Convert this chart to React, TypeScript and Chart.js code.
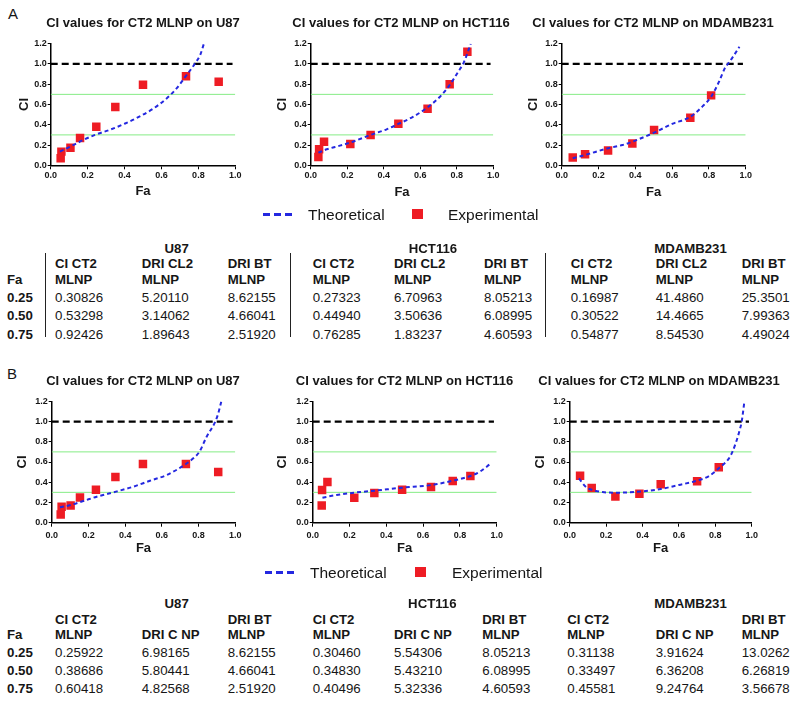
import React, { useEffect, useRef } from "react";
import { Chart, registerables } from "chart.js";

Chart.register(...registerables);

const FONT = "'Liberation Sans', Arial, Helvetica, sans-serif";
const BLUE = "#2428e0";
const RED = "#ee1c24";
const GREEN = "#86ec86";
const INK = "#161616";

// ---------- axis ticks ----------
const X_TICKS = [0, 0.2, 0.4, 0.6, 0.8, 1.0];
const Y_TICKS = [0, 0.2, 0.4, 0.6, 0.8, 1.0, 1.2];

// reference lines (CI levels)
const CI_ADDITIVE = 1.0;
const CI_UPPER = 0.7;
const CI_LOWER = 0.3;

// ---------- Panel A ----------
const A_U87_EXP_FA = [0.054, 0.058, 0.107, 0.159, 0.247, 0.35, 0.5, 0.733, 0.91];
const A_U87_EXP_CI = [0.069, 0.135, 0.174, 0.27, 0.381, 0.575, 0.796, 0.878, 0.825];
const A_U87_TH_FA = [0.05, 0.105, 0.177, 0.24, 0.32, 0.4, 0.48, 0.556, 0.628, 0.682, 0.736, 0.78, 0.81, 0.83];
const A_U87_TH_CI = [0.135, 0.184, 0.25, 0.3, 0.35, 0.41, 0.48, 0.56, 0.66, 0.76, 0.89, 1.0, 1.09, 1.2];

const A_HCT_EXP_FA = [0.042, 0.046, 0.073, 0.217, 0.328, 0.48, 0.64, 0.761, 0.858];
const A_HCT_EXP_CI = [0.082, 0.158, 0.233, 0.21, 0.299, 0.411, 0.559, 0.799, 1.121];
const A_HCT_TH_FA = [0.042, 0.088, 0.16, 0.217, 0.328, 0.416, 0.48, 0.562, 0.64, 0.708, 0.761, 0.808, 0.836, 0.858, 0.876];
const A_HCT_TH_CI = [0.125, 0.158, 0.194, 0.224, 0.3, 0.355, 0.408, 0.48, 0.572, 0.677, 0.792, 0.924, 1.006, 1.105, 1.2];

const A_MDA_EXP_FA = [0.06, 0.127, 0.252, 0.384, 0.502, 0.699, 0.812];
const A_MDA_EXP_CI = [0.076, 0.108, 0.145, 0.214, 0.348, 0.47, 0.69];
const A_MDA_TH_FA = [0.06, 0.127, 0.252, 0.33, 0.384, 0.502, 0.6, 0.7, 0.764, 0.812, 0.855, 0.891, 0.906, 0.937, 0.966];
const A_MDA_TH_CI = [0.069, 0.102, 0.168, 0.2, 0.233, 0.322, 0.408, 0.48, 0.579, 0.677, 0.825, 0.973, 1.006, 1.088, 1.17];

// ---------- Panel B ----------
const B_U87_EXP_FA = [0.049, 0.054, 0.103, 0.154, 0.241, 0.347, 0.497, 0.731, 0.907];
const B_U87_EXP_CI = [0.082, 0.158, 0.171, 0.25, 0.326, 0.452, 0.58, 0.58, 0.501];
const B_U87_TH_FA = [0.045, 0.103, 0.172, 0.245, 0.35, 0.445, 0.535, 0.626, 0.731, 0.771, 0.804, 0.844, 0.891, 0.907, 0.924];
const B_U87_TH_CI = [0.152, 0.175, 0.214, 0.257, 0.307, 0.356, 0.415, 0.471, 0.58, 0.636, 0.7, 0.85, 1.0, 1.08, 1.2];

const B_HCT_EXP_FA = [0.049, 0.051, 0.08, 0.226, 0.335, 0.486, 0.643, 0.761, 0.857];
const B_HCT_EXP_CI = [0.171, 0.323, 0.402, 0.247, 0.293, 0.326, 0.353, 0.412, 0.462];
const B_HCT_TH_FA = [0.053, 0.13, 0.226, 0.335, 0.486, 0.643, 0.761, 0.857, 0.909, 0.964];
const B_HCT_TH_CI = [0.247, 0.274, 0.297, 0.316, 0.346, 0.372, 0.415, 0.462, 0.505, 0.58];

const B_MDA_EXP_FA = [0.057, 0.121, 0.251, 0.383, 0.5, 0.7, 0.819];
const B_MDA_EXP_CI = [0.465, 0.343, 0.26, 0.287, 0.379, 0.409, 0.547];
const B_MDA_TH_FA = [0.051, 0.088, 0.125, 0.18, 0.253, 0.326, 0.399, 0.5, 0.6, 0.7, 0.766, 0.819, 0.875, 0.894, 0.912, 0.934, 0.945, 0.96];
const B_MDA_TH_CI = [0.438, 0.356, 0.323, 0.303, 0.297, 0.3, 0.31, 0.333, 0.373, 0.415, 0.462, 0.537, 0.636, 0.7, 0.785, 0.916, 1.0, 1.2];

// ---------- tables ----------
const FA_LEVELS = ["0.25", "0.50", "0.75"];
const CELL_LINES = ["U87", "HCT116", "MDAMB231"];

const A_U87_CI = ["0.30826", "0.53298", "0.92426"];
const A_U87_DRI_CL2 = ["5.20110", "3.14062", "1.89643"];
const A_U87_DRI_BT = ["8.62155", "4.66041", "2.51920"];
const A_HCT_CI = ["0.27323", "0.44940", "0.76285"];
const A_HCT_DRI_CL2 = ["6.70963", "3.50636", "1.83237"];
const A_HCT_DRI_BT = ["8.05213", "6.08995", "4.60593"];
const A_MDA_CI = ["0.16987", "0.30522", "0.54877"];
const A_MDA_DRI_CL2 = ["41.4860", "14.4665", "8.54530"];
const A_MDA_DRI_BT = ["25.3501", "7.99363", "4.49024"];

const B_U87_CI = ["0.25922", "0.38686", "0.60418"];
const B_U87_DRI_CNP = ["6.98165", "5.80441", "4.82568"];
const B_U87_DRI_BT = ["8.62155", "4.66041", "2.51920"];
const B_HCT_CI = ["0.30460", "0.34830", "0.40496"];
const B_HCT_DRI_CNP = ["5.54306", "5.43210", "5.32336"];
const B_HCT_DRI_BT = ["8.05213", "6.08995", "4.60593"];
const B_MDA_CI = ["0.31138", "0.33497", "0.45581"];
const B_MDA_DRI_CNP = ["3.91624", "6.36208", "9.24764"];
const B_MDA_DRI_BT = ["13.0262", "6.26819", "3.56678"];

// ---------- layout ----------
type Geo = {
  plotL: number; plotR: number; plotT: number; plotB: number;
  titleCx: number; titleCy: number; ciX: number; faY: number; tickPadX: number;
};

const GEO_A1: Geo = { plotL: 50.7, plotR: 235.3, plotT: 43.7, plotB: 165.3, titleCx: 143.2, titleCy: 23.3, ciX: 24.3, faY: 191.8, tickPadX: 1 };
const GEO_A2: Geo = { plotL: 310.7, plotR: 493.3, plotT: 43.7, plotB: 165.3, titleCx: 401.2, titleCy: 23.3, ciX: 282.5, faY: 192.3, tickPadX: 1 };
const GEO_A3: Geo = { plotL: 561.7, plotR: 745.7, plotT: 43.7, plotB: 165.3, titleCx: 653.2, titleCy: 23.3, ciX: 533.5, faY: 192.0, tickPadX: 1 };
const GEO_B1: Geo = { plotL: 51.7, plotR: 235.3, plotT: 401.3, plotB: 522.7, titleCx: 143.0, titleCy: 381.5, ciX: 22.5, faY: 548.7, tickPadX: 3 };
const GEO_B2: Geo = { plotL: 312.7, plotR: 496.7, plotT: 401.3, plotB: 522.7, titleCx: 404.5, titleCy: 381.5, ciX: 282.8, faY: 548.7, tickPadX: 3 };
const GEO_B3: Geo = { plotL: 569.7, plotR: 751.7, plotT: 401.3, plotB: 522.7, titleCx: 659.0, titleCy: 381.5, ciX: 540.7, faY: 548.7, tickPadX: 3 };

const pts = (xs: number[], ys: number[]) => xs.map((x, i) => ({ x, y: ys[i] }));

function CIChart(props: {
  title: string; geo: Geo;
  expFa: number[]; expCi: number[]; thFa: number[]; thCi: number[];
}) {
  const { title, geo, expFa, expCi, thFa, thCi } = props;
  const ref = useRef<HTMLCanvasElement>(null);
  const L = Math.round(geo.plotL - 44);
  const R = Math.round(2 * geo.titleCx - L);
  const W = R - L;
  const T = Math.round(geo.titleCy - 7.8 - 4);
  const H = Math.round(geo.faY + 7.8 + 2 - T);

  useEffect(() => {
    const yAxisW = geo.plotL - L;
    const rightW = R - geo.plotR;
    const titlePadTop = geo.titleCy - T - 7.8;
    const titlePadBottom = geo.plotT - T - 15.6 - titlePadTop;
    const xAxisH = T + H - geo.plotB;
    const faPadBottom = T + H - geo.faY - 7.8;
    const ciPadTop = geo.ciX - L - 7.8;
    const tickFont = { family: FONT, size: 9, weight: "bold" as const };
    const axisTitleFont = { family: FONT, size: 13, weight: "bold" as const };

    const chart = new Chart(ref.current!, {
      type: "scatter",
      data: {
        datasets: [
          {
            label: "Theoretical",
            data: pts(thFa, thCi),
            showLine: true,
            borderColor: BLUE,
            backgroundColor: BLUE,
            borderWidth: 2,
            borderDash: [4, 3],
            pointRadius: 0,
            pointHoverRadius: 0,
            cubicInterpolationMode: "monotone",
            order: 0,
          } as any,
          {
            label: "Experimental",
            data: pts(expFa, expCi),
            backgroundColor: RED,
            borderColor: RED,
            borderWidth: 0,
            pointStyle: "rect",
            pointRadius: 6,
            pointHoverRadius: 6,
            order: 1,
          } as any,
          {
            label: "CI = 1",
            data: pts([0, 0.985], [CI_ADDITIVE, CI_ADDITIVE]),
            showLine: true,
            borderColor: "#000",
            borderWidth: 2.2,
            borderDash: [7, 4],
            pointRadius: 0,
            pointHoverRadius: 0,
            order: 2,
          } as any,
          {
            label: "CI = 0.7",
            data: pts([0, 1], [CI_UPPER, CI_UPPER]),
            showLine: true,
            borderColor: GREEN,
            borderWidth: 1,
            pointRadius: 0,
            pointHoverRadius: 0,
            order: 3,
          } as any,
          {
            label: "CI = 0.3",
            data: pts([0, 1], [CI_LOWER, CI_LOWER]),
            showLine: true,
            borderColor: GREEN,
            borderWidth: 1,
            pointRadius: 0,
            pointHoverRadius: 0,
            order: 3,
          } as any,
        ],
      },
      options: {
        animation: false,
        responsive: false,
        devicePixelRatio: 1,
        events: [],
        layout: { padding: 0 },
        plugins: {
          legend: { display: false },
          tooltip: { enabled: false },
          title: {
            display: true,
            text: title,
            color: INK,
            font: { family: FONT, size: 13, weight: "bold" },
            padding: { top: titlePadTop, bottom: titlePadBottom },
          },
        },
        scales: {
          x: {
            type: "linear",
            min: 0,
            max: 1,
            afterBuildTicks: (ax: any) => {
              ax.ticks = X_TICKS.map((v) => ({ value: v }));
            },
            afterFit: (ax: any) => {
              ax.height = xAxisH;
            },
            grid: { display: true, drawOnChartArea: false, drawTicks: true, tickLength: 4, color: "#000", lineWidth: 1 },
            border: { display: true, color: "#000", width: 1.5 },
            ticks: {
              font: tickFont,
              color: INK,
              padding: geo.tickPadX,
              maxRotation: 0,
              autoSkip: false,
              callback: (v: any) => Number(v).toFixed(1),
            },
            title: { display: true, text: "Fa", color: INK, font: axisTitleFont, padding: { top: 0, bottom: faPadBottom } },
          },
          y: {
            type: "linear",
            min: 0,
            max: 1.2,
            afterBuildTicks: (ax: any) => {
              ax.ticks = Y_TICKS.map((v) => ({ value: v }));
            },
            afterFit: (ax: any) => {
              ax.width = yAxisW;
            },
            grid: { display: true, drawOnChartArea: false, drawTicks: true, tickLength: 3, color: "#000", lineWidth: 1 },
            border: { display: true, color: "#000", width: 1.5 },
            ticks: {
              font: tickFont,
              color: INK,
              padding: 1,
              autoSkip: false,
              callback: (v: any) => Number(v).toFixed(1),
            },
            title: { display: true, text: "CI", color: INK, font: axisTitleFont, padding: { top: ciPadTop, bottom: 0 } },
          },
          // empty right-hand spacer so that the full-width title centres over the plot
          spacer: {
            type: "linear",
            axis: "y",
            position: "right",
            display: true,
            min: 0,
            max: 1.2,
            afterFit: (ax: any) => {
              ax.width = rightW;
            },
            grid: { display: false, drawTicks: false },
            border: { display: false },
            ticks: { display: false },
            title: { display: false },
          },
        },
      } as any,
    });
    return () => chart.destroy();
  }, []);

  return (
    <canvas
      ref={ref}
      width={W}
      height={H}
      style={{ position: "absolute", left: L, top: T, width: W, height: H }}
    />
  );
}

function Txt(props: { x: number; y: number; text: string; bold?: boolean; size?: number; center?: boolean }) {
  const { x, y, text, bold = false, size = 13.3, center = false } = props;
  return (
    <div
      style={{
        position: "absolute",
        left: x,
        top: y - size * 0.49,
        fontSize: size,
        lineHeight: 1,
        fontWeight: bold ? 700 : 400,
        whiteSpace: "nowrap",
        color: INK,
        transform: center ? "translateX(-50%)" : undefined,
      }}
    >
      {text}
    </div>
  );
}

function Legend(props: { y: number; lineL: number; lineR: number; theoX: number; sqL: number; expX: number }) {
  const { y, lineL, lineR, theoX, sqL, expX } = props;
  return (
    <>
      <div
        style={{
          position: "absolute",
          left: lineL,
          top: y - 1.5,
          width: lineR - lineL,
          height: 3,
          background: `repeating-linear-gradient(to right, ${BLUE} 0px, ${BLUE} 7px, transparent 7px, transparent 11px)`,
        }}
      />
      <Txt x={theoX} y={y + 1} text="Theoretical" size={15.5} />
      <div style={{ position: "absolute", left: sqL, top: y - 5, width: 11, height: 10, background: RED }} />
      <Txt x={expX} y={y + 1} text="Experimental" size={15.5} />
    </>
  );
}

const HDR = 13.2;

function TableA() {
  const colX = [55, 141.7, 227.7, 312.7, 394, 484, 570.7, 655.7, 741.7];
  const groupCx = [176.7, 433, 690.5];
  const cols = [A_U87_CI, A_U87_DRI_CL2, A_U87_DRI_BT, A_HCT_CI, A_HCT_DRI_CL2, A_HCT_DRI_BT, A_MDA_CI, A_MDA_DRI_CL2, A_MDA_DRI_BT];
  const head1 = ["CI CT2", "DRI CL2", "DRI BT"];
  const rowY = [297.5, 315.8, 334.2];
  const sepX = [45.7, 290.7, 545.7];
  return (
    <>
      {CELL_LINES.map((c, i) => (
        <Txt key={"g" + i} x={groupCx[i]} y={248} text={c} bold size={HDR} center />
      ))}
      {colX.map((x, i) => (
        <React.Fragment key={"h" + i}>
          <Txt x={x} y={263.3} text={head1[i % 3]} bold size={HDR} />
          <Txt x={x} y={279.2} text="MLNP" bold size={HDR} />
        </React.Fragment>
      ))}
      <Txt x={7} y={279.2} text="Fa" bold size={HDR} />
      {FA_LEVELS.map((f, r) => (
        <Txt key={"f" + r} x={7} y={rowY[r]} text={f} bold />
      ))}
      {cols.map((col, c) =>
        col.map((v, r) => <Txt key={c + "-" + r} x={colX[c]} y={rowY[r]} text={v} />)
      )}
      {sepX.map((x, i) => (
        <div key={"s" + i} style={{ position: "absolute", left: x - 0.5, top: 253, width: 1.2, height: 84, background: "#222" }} />
      ))}
    </>
  );
}

function TableB() {
  const colX = [55, 141.7, 227.7, 312.7, 394, 482.3, 567.3, 655.7, 741.7];
  const groupCx = [176.7, 432.3, 690.5];
  const cols = [B_U87_CI, B_U87_DRI_CNP, B_U87_DRI_BT, B_HCT_CI, B_HCT_DRI_CNP, B_HCT_DRI_BT, B_MDA_CI, B_MDA_DRI_CNP, B_MDA_DRI_BT];
  const head1 = ["CI CT2", "", "DRI BT"];
  const head2 = ["MLNP", "DRI C NP", "MLNP"];
  const rowY = [652.5, 670.8, 688.7];
  return (
    <>
      {CELL_LINES.map((c, i) => (
        <Txt key={"g" + i} x={groupCx[i]} y={603.3} text={c} bold size={HDR} center />
      ))}
      {colX.map((x, i) => (
        <React.Fragment key={"h" + i}>
          {head1[i % 3] ? <Txt x={x} y={619.2} text={head1[i % 3]} bold size={HDR} /> : null}
          <Txt x={x} y={634.2} text={head2[i % 3]} bold size={HDR} />
        </React.Fragment>
      ))}
      <Txt x={7} y={634.2} text="Fa" bold size={HDR} />
      {FA_LEVELS.map((f, r) => (
        <Txt key={"f" + r} x={7} y={rowY[r]} text={f} bold />
      ))}
      {cols.map((col, c) =>
        col.map((v, r) => <Txt key={c + "-" + r} x={colX[c]} y={rowY[r]} text={v} />)
      )}
    </>
  );
}

export default function App() {
  return (
    <div
      style={{
        position: "absolute",
        left: 0,
        top: 0,
        width: 799,
        height: 702,
        background: "#fff",
        overflow: "hidden",
        fontFamily: FONT,
      }}
    >
      <Txt x={8} y={13.8} text="A" size={15} />
      <Txt x={7} y={373.3} text="B" size={15} />

      <CIChart title="CI values for CT2 MLNP on U87" geo={GEO_A1} expFa={A_U87_EXP_FA} expCi={A_U87_EXP_CI} thFa={A_U87_TH_FA} thCi={A_U87_TH_CI} />
      <CIChart title="CI values for CT2 MLNP on HCT116" geo={GEO_A2} expFa={A_HCT_EXP_FA} expCi={A_HCT_EXP_CI} thFa={A_HCT_TH_FA} thCi={A_HCT_TH_CI} />
      <CIChart title="CI values for CT2 MLNP on MDAMB231" geo={GEO_A3} expFa={A_MDA_EXP_FA} expCi={A_MDA_EXP_CI} thFa={A_MDA_TH_FA} thCi={A_MDA_TH_CI} />

      <Legend y={214} lineL={263} lineR={292} theoX={308} sqL={412} expX={448} />
      <TableA />

      <CIChart title="CI values for CT2 MLNP on U87" geo={GEO_B1} expFa={B_U87_EXP_FA} expCi={B_U87_EXP_CI} thFa={B_U87_TH_FA} thCi={B_U87_TH_CI} />
      <CIChart title="CI values for CT2 MLNP on HCT116" geo={GEO_B2} expFa={B_HCT_EXP_FA} expCi={B_HCT_EXP_CI} thFa={B_HCT_TH_FA} thCi={B_HCT_TH_CI} />
      <CIChart title="CI values for CT2 MLNP on MDAMB231" geo={GEO_B3} expFa={B_MDA_EXP_FA} expCi={B_MDA_EXP_CI} thFa={B_MDA_TH_FA} thCi={B_MDA_TH_CI} />

      <Legend y={572} lineL={265} lineR={298} theoX={310} sqL={415} expX={452} />
      <TableB />
    </div>
  );
}
